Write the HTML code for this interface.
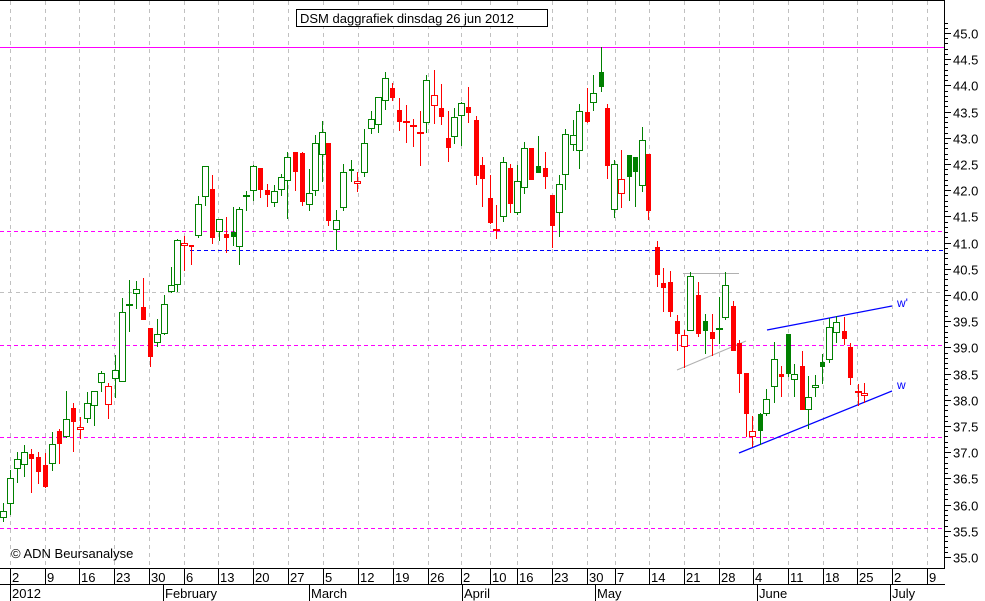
<!DOCTYPE html>
<html><head><meta charset="utf-8"><style>
body{margin:0;background:#fff;}
svg{display:block;font-family:"Liberation Sans",Tahoma,sans-serif;}
</style></head><body>
<svg id="s" width="985" height="601" xmlns="http://www.w3.org/2000/svg" shape-rendering="crispEdges">
<rect x="0" y="0" width="985" height="601" fill="#fff"/>
<g id="grid"></g>
<line x1="0" y1="292.5" x2="944" y2="292.5" stroke="#c0c0c0" stroke-dasharray="4,4"/>
<line x1="0" y1="47.5" x2="944" y2="47.5" stroke="#ff00ff"/>
<line x1="0" y1="231.5" x2="944" y2="231.5" stroke="#ff00ff" stroke-width="1.2" stroke-dasharray="4,3"/>
<line x1="0" y1="345.5" x2="944" y2="345.5" stroke="#ff00ff" stroke-width="1.2" stroke-dasharray="4,3"/>
<line x1="0" y1="437.5" x2="944" y2="437.5" stroke="#ff00ff" stroke-width="1.2" stroke-dasharray="4,3"/>
<line x1="0" y1="528.5" x2="944" y2="528.5" stroke="#ff00ff" stroke-width="1.2" stroke-dasharray="4,3"/>
<line x1="190" y1="250.5" x2="944" y2="250.5" stroke="#0000ff" stroke-dasharray="4,3"/>
<line x1="683" y1="273.5" x2="739" y2="273.5" stroke="#b0b0b0"/>
<line x1="677" y1="370" x2="746" y2="341" stroke="#b0b0b0" shape-rendering="auto"/>
<line x1="767" y1="330" x2="892" y2="306" stroke="#0000ff" stroke-width="1.3" shape-rendering="auto"/>
<line x1="739" y1="453" x2="892" y2="391" stroke="#0000ff" stroke-width="1.3" shape-rendering="auto"/>
<text x="897" y="307" font-size="12" fill="#0000ff">w'</text>
<text x="897" y="389" font-size="12" fill="#0000ff">w</text>
<g id="candles"></g>
<rect x="296.5" y="9.5" width="251" height="17" fill="#fff" stroke="#000"/>
<text x="300" y="23" font-size="13" fill="#000">DSM daggrafiek dinsdag 26 jun 2012</text>
<text x="11" y="558" font-size="13" fill="#000">© ADN Beursanalyse</text>
<line x1="0" y1="0.5" x2="945" y2="0.5" stroke="#000"/>
<line x1="944.5" y1="0" x2="944.5" y2="569" stroke="#000"/>
<line x1="0" y1="568.5" x2="945" y2="568.5" stroke="#000"/>
<line x1="0" y1="584.5" x2="945" y2="584.5" stroke="#000"/>
<g id="axis"></g>
</svg>
<script>
var NS="http://www.w3.org/2000/svg";
function el(p,t,a,txt){var e=document.createElementNS(NS,t);for(var k in a)e.setAttribute(k,a[k]);if(txt!==undefined)e.textContent=txt;document.getElementById(p).appendChild(e);return e;}
var days=[[10,"2"],[45,"9"],[79,"16"],[114,"23"],[149,"30"],[184,"6"],[218,"13"],[253,"20"],[288,"27"],[323,"5"],[358,"12"],[393,"19"],[428,"26"],[461,"2"],[490,"10"],[517,"16"],[552,"23"],[587,"30"],[615,"7"],[649,"14"],[684,"21"],[719,"28"],[753,"4"],[788,"11"],[823,"18"],[857,"25"],[892,"2"],[927,"9"]];
days.forEach(function(d){
 el("grid","line",{x1:d[0]+.5,y1:1,x2:d[0]+.5,y2:568,stroke:"#c0c0c0","stroke-dasharray":"4,4"});
 el("axis","line",{x1:d[0]+.5,y1:569,x2:d[0]+.5,y2:584,stroke:"#000"});
 el("axis","text",{x:d[0]+2,y:582,"font-size":"13",fill:"#000"},d[1]);
});
[[10,"2012"],[163,"February"],[309,"March"],[462,"April"],[595,"May"],[757,"June"],[890,"July"]].forEach(function(m){
 el("axis","line",{x1:m[0]+.5,y1:585,x2:m[0]+.5,y2:601,stroke:"#000"});
 el("axis","text",{x:m[0]+2,y:598,"font-size":"13",fill:"#000"},m[1]);
});
for(var i=350;i<=452;i++){var p=i/10;var y=Math.round(33+(45-p)*52.4)+.5;var maj=(i%5==0);
 el("axis","line",{x1:944,y1:y,x2:maj?951:948,y2:y,stroke:"#000"});
 if(maj)el("axis","text",{x:953,y:y+5,"font-size":"13",fill:"#000"},p.toFixed(1));}
var D=[[3,503,511,518,522,'g'],[10,470,478,504,515,'g'],[17,452,459,469,483,'g'],[24,445,452,465,477,'g'],[31,449,454,459,493,'r'],[38,452,457,472,484,'r'],[45,453,465,487,488,'r'],[52,432,444,464,471,'g'],[59,429,431,444,464,'r'],[66,391,419,437,438,'g'],[73,403,408,422,452,'r'],[80,417,427,430,439,'R'],[87,392,403,419,423,'g'],[94,391,391,406,426,'g'],[101,371,373,383,392,'g'],[108,383,386,405,419,'R'],[115,355,370,379,398,'g'],[122,298,312,382,382,'g'],[129,280,304,305,332,'G'],[136,281,289,294,309,'g'],[143,278,307,320,320,'r'],[150,328,328,357,367,'r'],[157,319,334,343,347,'g'],[164,295,304,334,335,'g'],[171,267,285,292,293,'g'],[177,239,240,285,292,'g'],[184,236,243,246,271,'R'],[191,245,245,247,265,'r'],[198,196,204,236,238,'g'],[205,166,166,197,206,'g'],[212,175,189,238,244,'r'],[219,219,219,232,241,'g'],[226,217,234,238,253,'r'],[233,207,232,237,246,'G'],[239,207,209,247,265,'g'],[246,191,195,197,211,'g'],[253,165,166,191,201,'g'],[260,168,168,190,198,'r'],[267,184,190,195,207,'r'],[274,185,191,203,207,'g'],[281,174,177,190,196,'g'],[287,152,157,181,219,'g'],[295,152,152,172,191,'r'],[302,152,153,202,206,'r'],[309,169,193,205,211,'g'],[315,135,143,191,196,'g'],[322,121,132,155,182,'g'],[328,143,143,221,226,'r'],
[336,210,220,230,250,'g'],[343,164,172,208,211,'g'],[351,160,169,171,182,'G'],[357,172,181,184,192,'R'],[364,129,143,173,177,'g'],[371,111,119,129,134,'g'],[378,97,97,125,133,'g'],[385,72,78,101,110,'g'],[392,83,88,98,101,'r'],[399,98,110,122,131,'r'],[406,105,121,121,143,'r'],[413,119,125,125,147,'r'],[420,111,132,132,166,'r'],[426,75,80,123,133,'g'],[434,70,95,106,124,'R'],[441,84,108,117,125,'r'],[448,111,138,148,162,'r'],[454,108,117,137,144,'g'],[461,102,103,116,146,'g'],[468,87,107,113,123,'r'],[476,116,120,176,185,'r'],[482,157,165,179,207,'r'],[490,175,198,223,224,'r'],[496,205,229,229,239,'r'],[503,157,162,217,222,'g'],[510,164,168,204,213,'r'],[517,165,181,213,215,'g'],[524,142,148,188,194,'g'],[531,148,148,180,180,'r'],[538,136,166,173,173,'G'],[545,152,168,177,189,'r'],[552,195,195,226,248,'r'],[559,175,184,213,237,'g'],[565,129,134,175,190,'g'],[573,120,135,145,151,'g'],[579,104,111,151,169,'g'],[587,88,112,122,123,'r'],[593,75,93,103,111,'g'],[601,47,72,87,92,'G'],[607,104,108,166,179,'r'],[614,160,164,210,218,'g'],[621,150,179,194,208,'R'],[629,155,155,177,201,'G'],[635,157,157,172,207,'G'],[642,127,140,186,192,'g'],[648,154,154,211,220,'r'],
[657,241,247,275,287,'r'],[663,268,283,288,312,'r'],[670,271,282,312,317,'r'],[677,315,321,334,351,'r'],[684,330,335,347,368,'R'],[690,272,276,331,331,'g'],[698,282,295,334,337,'r'],[705,314,321,331,354,'G'],[712,314,332,339,356,'r'],[719,297,328,328,344,'G'],[725,272,285,318,320,'g'],[733,301,306,351,351,'r'],[739,340,343,374,393,'r'],[746,373,373,414,437,'r'],[752,416,431,437,447,'R'],[760,413,414,431,445,'G'],[766,389,399,414,416,'g'],[774,342,359,387,403,'g'],[781,366,374,377,397,'r'],[788,334,334,374,377,'G'],[794,364,374,380,397,'g'],[802,351,366,410,410,'r'],[808,376,397,410,429,'g'],[815,375,385,388,397,'g'],[822,354,362,367,384,'G'],[829,318,327,360,363,'g'],[836,316,322,333,343,'g'],[844,317,331,339,345,'r'],[850,343,347,378,385,'r'],[858,384,391,391,406,'r'],[864,383,393,396,403,'R']];
D.forEach(function(c){
 var x=c[0],t=c[5],col=(t=='g'||t=='G')?"#008000":"#ff0000";
 el("candles","rect",{x:x,y:c[1],width:1,height:Math.max(1,c[4]-c[1]),fill:col});
 var h=c[3]-c[2];
 if(h<2){el("candles","rect",{x:x-3,y:c[2],width:7,height:2,fill:col});return;}
 if(t=='r'||t=='G')el("candles","rect",{x:x-2,y:c[2],width:5,height:h,fill:col});
 else el("candles","rect",{x:x-2.5,y:c[2]+.5,width:6,height:h-1,fill:"#fff",stroke:col});
});
</script>
</body></html>
